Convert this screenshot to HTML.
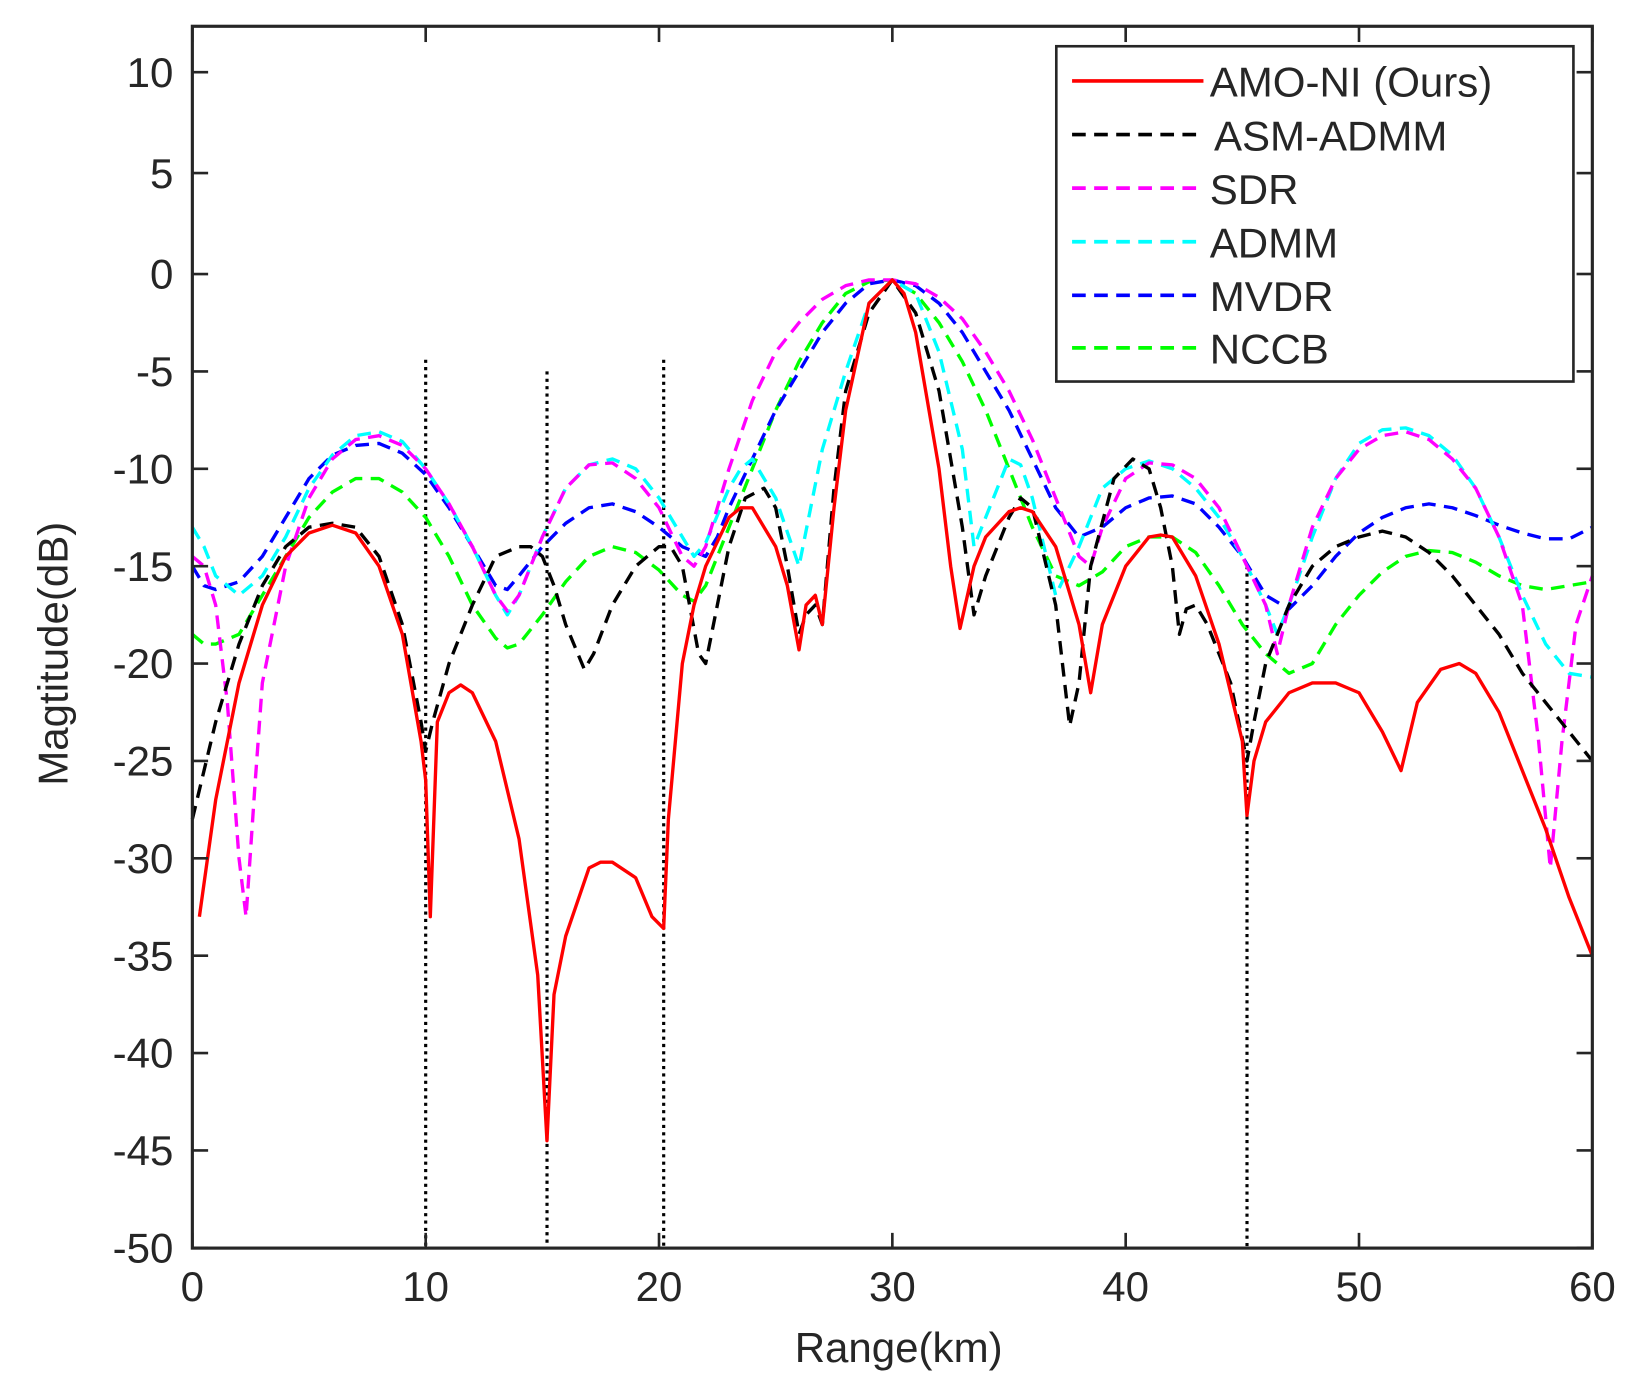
<!DOCTYPE html>
<html><head><meta charset="utf-8"><style>
html,body{margin:0;padding:0;background:#fff;}
svg{display:block;}
text{font-family:"Liberation Sans","DejaVu Sans",sans-serif;fill:#262626;}
</style></head><body>
<svg id="s" width="1647" height="1388" viewBox="0 0 1567 1320.6" xmlns="http://www.w3.org/2000/svg">
<rect x="0" y="0" width="1567" height="1321" fill="#fff"/>
<g id="plot"></g>
<rect x="183" y="25" width="1332" height="1162.5" fill="none" stroke="#262626" stroke-width="3"/>
<g id="ticks"></g>
<g id="legend">
<rect x="1005" y="44" width="492" height="319" fill="#fff" stroke="#262626" stroke-width="2.5"/>
<line x1="1020" y1="77" x2="1145" y2="77" stroke="#ff0000" stroke-width="3.5"/>
<line x1="1020" y1="128" x2="1145" y2="128" stroke="#000" stroke-width="3.5" stroke-dasharray="13 8"/>
<line x1="1020" y1="179" x2="1145" y2="179" stroke="#ff00ff" stroke-width="3.5" stroke-dasharray="13 8"/>
<line x1="1020" y1="230" x2="1145" y2="230" stroke="#00ffff" stroke-width="3.5" stroke-dasharray="13 8"/>
<line x1="1020" y1="281" x2="1145" y2="281" stroke="#0000ff" stroke-width="3.5" stroke-dasharray="13 8"/>
<line x1="1020" y1="331" x2="1145" y2="331" stroke="#00ff00" stroke-width="3.5" stroke-dasharray="13 8"/>
<text x="1151" y="92" font-size="40">AMO-NI (Ours)</text>
<text x="1155" y="143" font-size="40">ASM-ADMM</text>
<text x="1151" y="194" font-size="40">SDR</text>
<text x="1151" y="245" font-size="40">ADMM</text>
<text x="1151" y="296" font-size="40">MVDR</text>
<text x="1151" y="346" font-size="40">NCCB</text>
</g>
<text x="855" y="1296" font-size="40" text-anchor="middle">Range(km)</text>
<text transform="translate(64,622) rotate(-90)" font-size="40" text-anchor="middle">Magtitude(dB)</text>
</svg>
<script>
var X=function(k){return 183+k*1332/60;},Y=function(d){return d>=0?260.7-d*19.2:260.7-d*18.53;};
var ns="http://www.w3.org/2000/svg";
function el(p,t,a){var e=document.createElementNS(ns,t);for(var k in a)e.setAttribute(k,a[k]);p.appendChild(e);return e;}
var T=document.getElementById('ticks');
for(var i=0;i<=6;i++){var x=X(i*10);el(T,'line',{x1:x,y1:1187.5,x2:x,y2:1173,stroke:'#262626','stroke-width':2.5});el(T,'line',{x1:x,y1:25,x2:x,y2:40,stroke:'#262626','stroke-width':2.5});
var t=el(T,'text',{x:x,y:1238,'font-size':40,'text-anchor':'middle'});t.textContent=i*10;}
for(var d=10;d>=-50;d-=5){var y=Y(d);el(T,'line',{x1:183,y1:y,x2:198,y2:y,stroke:'#262626','stroke-width':2.5});el(T,'line',{x1:1515,y1:y,x2:1500,y2:y,stroke:'#262626','stroke-width':2.5});
var t=el(T,'text',{x:165,y:y+14,'font-size':40,'text-anchor':'end'});t.textContent=d;}
var P=document.getElementById('plot');
[[10,-4.4],[15.2,-5],[20.2,-4.4],[45.2,-15]].forEach(function(v){el(P,'line',{x1:X(v[0]),y1:Y(v[1]),x2:X(v[0]),y2:1187,stroke:'#000','stroke-width':3,'stroke-dasharray':'3 4'});});
function S(str,c,dash){var a=str.split(';').map(function(s){var q=s.split(',');return X(+q[0]).toFixed(1)+','+Y(+q[1]).toFixed(1);});
var o={d:'M'+a.join('L'),fill:'none',stroke:c,'stroke-width':3.2,'stroke-linejoin':'round'};if(dash)o['stroke-dasharray']='13 8';el(P,'path',o);}
S("0,-18.5;0.5,-19;1,-19;2,-18.5;3,-16.5;4,-14.5;5,-12.5;6,-11.2;7,-10.5;8,-10.5;9,-11.2;10,-12.5;11,-14.5;12,-17;13,-18.7;13.5,-19.2;14,-19;15,-17.5;16,-15.8;17,-14.5;18,-14;19,-14.3;20,-15.2;21,-16.5;21.5,-16.8;22,-16;23,-13;24,-10;25,-7;26,-4.5;27,-2.5;28,-1;29,-0.4;30,-0.3;31,-1;32,-2.5;33,-4.5;34,-7;35,-10;36,-13;37,-15.5;38,-16;39,-15.3;40,-14;41,-13.5;42,-13.5;43,-14.3;44,-16;45,-18;46,-19.5;47,-20.5;48,-20;49,-18;50,-16.5;51,-15.3;52,-14.5;53,-14.2;54,-14.3;55,-14.8;56,-15.5;57,-16;58,-16.2;59,-16;60,-15.8","#00ff00",1);
S("0,-15;0.5,-16;1,-16.2;2,-15.8;3,-14.5;4,-12.5;5,-10.5;6,-9.3;7,-8.8;8,-8.7;9,-9.2;10,-10.3;11,-12;12,-14;13,-16;13.5,-16.2;14,-15.5;15,-14;16,-12.8;17,-12;18,-11.8;19,-12.2;20,-13;21,-14;22,-14.5;22.5,-13.5;23,-12;24,-9.5;25,-7;26,-5;27,-3;28,-1.5;29,-0.5;30,-0.3;31,-0.6;32,-1.5;33,-3;34,-5;35,-7;36,-9.5;37,-12;38,-13.5;39,-13;40,-12;41,-11.5;42,-11.4;43,-11.8;44,-13;45,-14.5;46,-16.5;47,-17.2;48,-16;49,-14.5;50,-13.3;51,-12.5;52,-12;53,-11.8;54,-12;55,-12.4;56,-12.9;57,-13.3;58,-13.6;59,-13.6;60,-13","#0000ff",1);
S("0,-13;0.5,-14;1,-15.5;2,-16.5;3,-15.5;4,-13.5;5,-11;6,-9.3;7,-8.3;8,-8.1;9,-8.6;10,-10;11,-11.8;12,-14;13,-16.5;13.5,-17.5;14,-16.5;15,-13.5;16,-11;17,-9.8;18,-9.5;19,-10;20,-11.5;21,-13.5;21.5,-14.5;22,-13.8;23,-11;23.5,-10;24,-9.5;25,-11.5;26,-15;26.5,-12;27,-9;28,-5;29,-1.5;30,-0.3;31,-1;32,-4;33,-9;33.5,-14;34,-12.5;35,-9.5;35.5,-9.8;36,-11.5;36.5,-14;37,-16.5;38,-14;39,-11;40,-10;41,-9.6;42,-10;43,-11;44,-12.5;45,-14.5;46,-17;46.5,-18.5;47,-17;48,-13.5;49,-10.5;50,-8.7;51,-8;52,-7.9;53,-8.3;54,-9.3;55,-11;56,-13.5;57,-16.5;58,-19;59,-20.5;60,-20.7","#00ffff",1);
S("0,-14.5;0.5,-15;1,-17;1.5,-22;2,-30;2.3,-33;2.7,-26;3,-21;4,-15;5,-11.5;6,-9.5;7,-8.5;8,-8.3;9,-8.8;10,-10;11,-11.8;12,-14;13,-16.5;13.5,-17.3;14,-16.5;15,-13.5;16,-11;17,-9.8;18,-9.7;19,-10.5;20,-12;21,-14.5;21.5,-15;22,-14;23,-10;24,-6.5;25,-4;26,-2.5;27,-1.3;28,-0.6;29,-0.3;30,-0.3;31,-0.5;32,-1.2;33,-2.3;34,-4;35,-6;36,-8.5;37,-11.5;38,-14.5;38.5,-15;39,-13;40,-10.5;41,-9.7;42,-9.8;43,-10.5;44,-12;45,-14.5;46,-17;46.5,-19.5;47,-17;48,-13;49,-10.5;50,-9;51,-8.3;52,-8.1;53,-8.5;54,-9.5;55,-11;56,-13.5;57,-17;57.7,-24;58.2,-30.5;58.7,-24;59.3,-18;60,-15.5","#ff00ff",1);
S("0,-28;1,-23;2,-19;3,-16;4,-14;5,-13;6,-12.8;7,-13;8,-14.5;9,-18;9.8,-23;10,-24.5;10.3,-23;11,-20;12,-17;13,-14.5;14,-14;14.5,-14;15,-14.5;15.5,-16;16,-18;16.8,-20.3;17.2,-19.5;18,-17;19,-15;20,-14;20.5,-14;21,-15;21.7,-19.5;22,-20;22.5,-17;23,-14;23.7,-11.5;24.5,-11;25,-12;25.5,-15;26,-18.5;26.3,-17.5;26.7,-17;27,-18;27.5,-11;28,-6;29,-2;30,-0.3;31,-2;32,-6;33,-13;33.5,-17.5;34,-15.5;35,-12.5;35.5,-11.5;36,-12;37,-17;37.6,-23.2;38,-21;38.5,-15;39.5,-10.5;40.3,-9.5;41,-10;41.5,-12;42,-15;42.3,-18.5;42.6,-17.2;43,-17;43.5,-18;44.5,-21;45.2,-25;45.5,-23;46,-20;47,-17;48,-15;49,-14;50,-13.5;51,-13.2;52,-13.5;53,-14.3;54,-15.5;55,-17;56,-18.5;57,-20.5;58,-22;59,-23.5;60,-25","#000000",1);
S("0.3,-33;1,-27;2,-21;3,-17;4,-14.5;5,-13.3;6,-12.9;7,-13.3;8,-15;9,-18.5;9.8,-24;10,-26;10.2,-33;10.5,-23;11,-21.5;11.5,-21.1;12,-21.5;13,-24;14,-29;14.8,-36;15.2,-44.5;15.5,-37;16,-34;17,-30.5;17.5,-30.2;18,-30.2;19,-31;19.7,-33;20.2,-33.6;20.4,-28;21,-20;21.5,-17;22,-15;23,-12.5;23.5,-12;24,-12;25,-14;25.5,-16;26,-19.3;26.3,-17;26.7,-16.5;27,-18;27.5,-12;28,-7;29,-1.5;30,-0.3;30.5,-1;31,-3;32,-10;32.5,-15;32.9,-18.2;33.5,-15;34,-13.5;35,-12.2;35.5,-12;36,-12.2;37,-14;38,-18;38.5,-21.5;39,-18;40,-15;41,-13.5;41.5,-13.4;42,-13.5;43,-15.5;44,-19;45,-24;45.2,-27.8;45.5,-25;46,-23;47,-21.5;48,-21;49,-21;50,-21.5;51,-23.5;51.8,-25.5;52.5,-22;53.5,-20.3;54.3,-20;55,-20.5;56,-22.5;57,-25.5;58,-28.5;59,-32;60,-35","#ff0000",0);
</script>
</body></html>
